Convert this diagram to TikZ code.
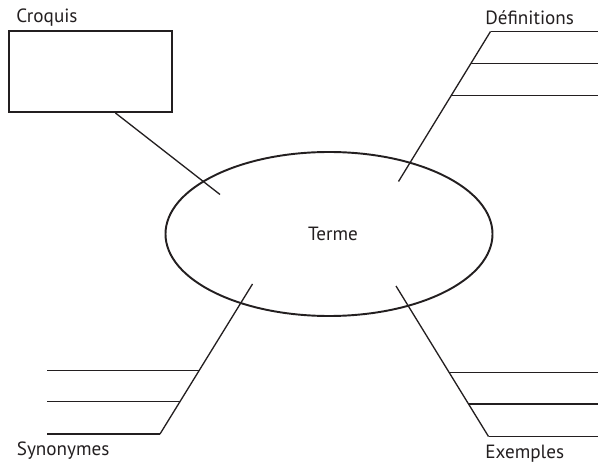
\documentclass[tikz,border=0pt]{standalone}
\usepackage{fontspec}
\setmainfont{PT Sans}
\usetikzlibrary{shapes.geometric,calc}

\definecolor{encre}{HTML}{231F20}
\tikzset{
	bord/.style={draw,line width=1.1pt,inner sep=0pt},
	trait/.style={line width=0.75pt},
	etiquette/.style={anchor=base west,inner sep=0pt},
}

\begin{document}
\begin{tikzpicture}[font=\fontsize{10.9pt}{13pt}\selectfont,color=encre]
		\useasboundingbox (-6.58,-4.62) rectangle (5.38,4.68);
		\coordinate (gauche) at (-5.64,0);
		\coordinate (droite) at (5.38,0);
		% centre
		\node[bord,ellipse,minimum width=6.54cm,minimum height=3.28cm] (terme) at (0,0) {};
		\node (lterme) at (0.08,0) {Terme};
		% croquis
		\node[bord,rectangle,minimum width=3.25cm,minimum height=1.62cm] (croquis) at (-4.77,3.25) {};
		\node[etiquette] (lcroquis) at (-6.26,4.23) {Croquis};
		\coordinate (cr) at (-2.18,0.79);
		\draw[trait] (croquis.-59) -- (cr);
		% definitions
		\coordinate (def) at (3.23,4.05);
		\coordinate (defin) at (1.39,1.05);
		\draw[trait] (def) -- (defin);
		\node[etiquette] (ldef) at (3.12,4.18) {Définitions};
		% synonymes
		\coordinate (syn) at (-3.38,-4.00);
		\coordinate (synin) at (-1.53,-1.00);
		\draw[trait] (syn) -- (synin);
		\node[etiquette] (lsyn) at (-6.25,-4.42) {Synonymes};
		% exemples
		\coordinate (exe) at (3.19,-4.05);
		\coordinate (exein) at (1.34,-1.04);
		\draw[trait] (exe) -- (exein);
		\node[etiquette] (lexe) at (3.12,-4.48) {Exemples};
		% lignes
		\foreach \t [count=\i] in {0,0.215,0.425} {
			\coordinate (d\i) at ($(def)!\t!(defin)$);
			\coordinate (s\i) at ($(syn)!\t!(synin)$);
			\coordinate (e\i) at ($(exe)!\t!(exein)$);
			\draw[trait] (d\i) -- (d\i -| droite);
			\draw[trait] (s\i) -- (s\i -| gauche);
			\draw[trait] (e\i) -- (e\i -| droite);
		}
	\end{tikzpicture}
\end{document}
